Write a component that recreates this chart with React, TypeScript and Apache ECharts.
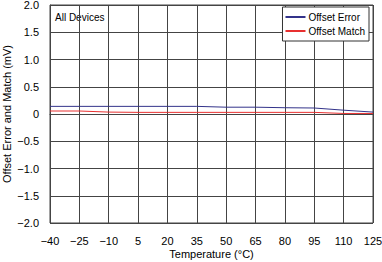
import React, { useEffect, useRef } from "react";
import * as echarts from "echarts";

const temps = [-40, -25, -10, 5, 20, 35, 50, 65, 80, 95, 110, 125];
const offsetError = [0.14, 0.14, 0.14, 0.14, 0.14, 0.14, 0.125, 0.125, 0.115, 0.11, 0.07, 0.035];
const offsetMatch = [0.055, 0.055, 0.035, 0.03, 0.03, 0.03, 0.03, 0.03, 0.03, 0.03, 0.01, 0.01];
const yTicks = [-2, -1.5, -1, -0.5, 0, 0.5, 1, 1.5, 2];
const xStart = -40; // axis origin; axis counts from 0 so ticks fall every 15 from -40

const fmtMinus = (v: number, digits: number) => {
  if (v === 0) return "0";
  const s = Math.abs(v).toFixed(digits);
  return v < 0 ? "\u2212" + s : s;
};

export default function App() {
  const ref = useRef<HTMLDivElement>(null);
  useEffect(() => {
    document.body.style.margin = "0";
    if (!ref.current) return;
    const chart = echarts.init(ref.current, undefined, { renderer: "svg" });
    const font = "'Liberation Sans', Arial, sans-serif";
    const gridColor = "#444";
    chart.setOption({
      animation: false,
      backgroundColor: "#fff",
      textStyle: { fontFamily: font },
      grid: {
        left: 50,
        right: 9,
        top: 5,
        bottom: 39,
        containLabel: false,
        outerBoundsMode: "none",
        show: true,
        borderColor: gridColor,
        borderWidth: 1,
        backgroundColor: "transparent",
      },
      legend: {
        right: 13,
        top: 7,
        orient: "vertical",
        backgroundColor: "#fff",
        borderColor: "#333",
        borderWidth: 1,
        borderRadius: 0,
        padding: [5, 4, 5, 3],
        itemGap: 4,
        itemWidth: 20,
        itemHeight: 2,
        textStyle: { fontSize: 10, color: "#000", fontFamily: font, padding: [0, 0, 0, -2] },
        data: [
          { name: "Offset Error", icon: "rect", itemStyle: { color: "#33338a" } },
          { name: "Offset Match", icon: "rect", itemStyle: { color: "#e83030" } },
        ],
      },
      graphic: [
        {
          type: "text",
          left: 55,
          top: 12,
          style: { text: "All Devices", fontSize: 10, fill: "#000", fontFamily: font },
        },
      ],
      xAxis: {
        type: "value",
        min: 0,
        max: 165,
        interval: 15,
        name: "Temperature (\u00B0C)",
        nameLocation: "middle",
        nameGap: 25,
        nameMoveOverlap: false,
        nameTextStyle: { fontSize: 11, color: "#000", fontFamily: font },
        axisLine: { show: true, lineStyle: { color: gridColor, width: 1 } },
        axisTick: { show: false },
        axisLabel: {
          fontSize: 11,
          color: "#000",
          margin: 12,
          fontFamily: font,
          formatter: (v: number) => fmtMinus(v + xStart, 0),
        },
        splitLine: { show: true, lineStyle: { color: gridColor, width: 1 } },
      },
      yAxis: {
        type: "value",
        min: -2,
        max: 2,
        interval: 0.5,
        name: "Offset Error and Match (mV)",
        nameLocation: "middle",
        nameGap: 38,
        nameMoveOverlap: false,
        nameTextStyle: { fontSize: 11, color: "#000", fontFamily: font },
        axisLine: { show: true, lineStyle: { color: gridColor, width: 1 } },
        axisTick: { show: false },
        axisLabel: {
          fontSize: 11,
          color: "#000",
          margin: 11,
          fontFamily: font,
          formatter: (v: number) => (yTicks.includes(v) ? fmtMinus(v, 1) : ""),
        },
        splitLine: { show: true, lineStyle: { color: gridColor, width: 1 } },
      },
      series: [
        {
          name: "Offset Error",
          type: "line",
          data: temps.map((t, i) => [t - xStart, offsetError[i]]),
          showSymbol: false,
          symbol: "none",
          lineStyle: { color: "#33338a", width: 1 },
          itemStyle: { color: "#33338a" },
          z: 3,
        },
        {
          name: "Offset Match",
          type: "line",
          data: temps.map((t, i) => [t - xStart, offsetMatch[i]]),
          showSymbol: false,
          symbol: "none",
          lineStyle: { color: "#e83030", width: 1 },
          itemStyle: { color: "#e83030" },
          z: 3,
        },
      ],
    });
    return () => chart.dispose();
  }, []);
  return <div ref={ref} style={{ width: 382, height: 262 }} />;
}
